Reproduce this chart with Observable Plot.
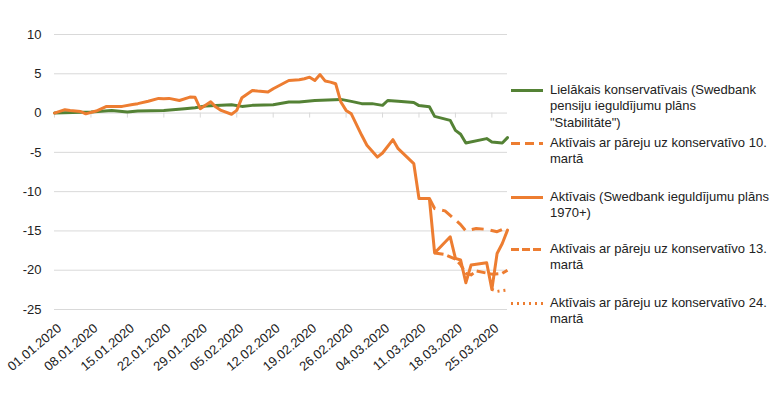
<!DOCTYPE html>
<html><head><meta charset="utf-8">
<script src="https://cdn.jsdelivr.net/npm/d3@7"></script>
<script src="https://cdn.jsdelivr.net/npm/@observablehq/plot@0.6"></script>
<style>
body{margin:0;background:#fff;font-family:"Liberation Sans",Arial,sans-serif;}
#wrap{position:relative;width:776px;height:399px;overflow:hidden;}
#chart{position:absolute;left:0;top:0;}
.leg{position:absolute;left:511px;font-size:13px;line-height:16.5px;color:#222;white-space:nowrap;}
.leg svg{position:absolute;left:0;top:6px;}
.leg .t{position:absolute;left:39px;top:0;}
</style></head><body>
<div id="wrap"><div id="chart"></div><div id="legend"></div></div>
<script>
// ---- data ----
const seriesNames = [
  "Lielākais konservatīvais (Swedbank pensiju ieguldījumu plāns \"Stabilitāte\")",
  "Aktīvais ar pāreju uz konservatīvo 10. martā",
  "Aktīvais (Swedbank ieguldījumu plāns 1970+)",
  "Aktīvais ar pāreju uz konservatīvo 13. martā",
  "Aktīvais ar pāreju uz konservatīvo 24. martā"
];
const legendLines = [
  ["Lielākais konservatīvais (Swedbank", "pensiju ieguldījumu plāns", "\"Stabilitāte\")"],
  ["Aktīvais ar pāreju uz konservatīvo 10.", "martā"],
  ["Aktīvais (Swedbank ieguldījumu plāns", "1970+)"],
  ["Aktīvais ar pāreju uz konservatīvo 13.", "martā"],
  ["Aktīvais ar pāreju uz konservatīvo 24.", "martā"]
];
const xTickLabels = ["01.01.2020","08.01.2020","15.01.2020","22.01.2020","29.01.2020","05.02.2020","12.02.2020","19.02.2020","26.02.2020","04.03.2020","11.03.2020","18.03.2020","25.03.2020"];
const yTicks = [-25, -20, -15, -10, -5, 0, 5, 10];

const greenDates = ["2020-01-01","2020-01-08","2020-01-12","2020-01-15","2020-01-17","2020-01-22","2020-01-26","2020-01-28","2020-01-30","2020-02-04","2020-02-06","2020-02-08","2020-02-12","2020-02-15","2020-02-17","2020-02-20","2020-02-25","2020-02-27","2020-02-29","2020-03-02","2020-03-04","2020-03-05","2020-03-07","2020-03-10","2020-03-11","2020-03-13","2020-03-14","2020-03-17","2020-03-18","2020-03-19","2020-03-20","2020-03-24","2020-03-25","2020-03-27","2020-03-28"];
const greenValues = [0,0.13,0.34,0.13,0.25,0.34,0.56,0.69,0.9,1.07,0.85,0.98,1.07,1.4,1.4,1.6,1.74,1.49,1.2,1.2,0.98,1.6,1.49,1.35,0.95,0.8,-0.42,-0.93,-2.2,-2.7,-3.8,-3.25,-3.68,-3.8,-3.12];

const activeDates = ["2020-01-01","2020-01-03","2020-01-04","2020-01-06","2020-01-07","2020-01-09","2020-01-11","2020-01-14","2020-01-16","2020-01-17","2020-01-19","2020-01-21","2020-01-22","2020-01-23","2020-01-25","2020-01-27","2020-01-28","2020-01-29","2020-01-31","2020-02-01","2020-02-02","2020-02-04","2020-02-05","2020-02-06","2020-02-08","2020-02-09","2020-02-11","2020-02-12","2020-02-14","2020-02-15","2020-02-17","2020-02-18","2020-02-19","2020-02-20","2020-02-21","2020-02-22","2020-02-23","2020-02-24","2020-02-25","2020-02-26","2020-02-27","2020-02-29","2020-03-01","2020-03-03","2020-03-04","2020-03-06","2020-03-07","2020-03-10","2020-03-11","2020-03-13","2020-03-14","2020-03-17","2020-03-18","2020-03-19","2020-03-20","2020-03-21","2020-03-24","2020-03-25","2020-03-26","2020-03-27","2020-03-28"];
const activeValues = [0,0.43,0.34,0.2,-0.1,0.26,0.85,0.85,1.1,1.2,1.5,1.87,1.83,1.87,1.6,2.03,2.0,0.55,1.45,0.76,0.34,-0.15,0.34,1.96,2.88,2.8,2.67,3.1,3.8,4.15,4.24,4.37,4.57,4.15,4.9,4.07,3.94,3.73,1.4,0.34,-0.1,-2.83,-4.1,-5.6,-5.08,-3.38,-4.53,-6.43,-10.88,-10.88,-17.8,-15.75,-18.5,-18.7,-21.6,-19.35,-19.05,-22.44,-17.87,-16.6,-14.9];

const mar10Dates = ["2020-03-13","2020-03-14","2020-03-16","2020-03-18","2020-03-19","2020-03-20","2020-03-22","2020-03-24","2020-03-26","2020-03-28"];
const mar10Values = [-10.88,-12.15,-12.45,-13.6,-14.2,-15.0,-14.7,-14.8,-15.1,-14.5];

const mar13Dates = ["2020-03-14","2020-03-16","2020-03-18","2020-03-19","2020-03-20","2020-03-21","2020-03-22","2020-03-25","2020-03-27","2020-03-28"];
const mar13Values = [-17.8,-18.0,-18.6,-19.3,-20.4,-20.6,-20.1,-20.5,-20.4,-20.0];

const mar24Dates = ["2020-03-25","2020-03-26","2020-03-27","2020-03-28"];
const mar24Values = [-22.44,-22.7,-22.6,-22.5];

// ---- build ----
const GREEN = "#548235", ORANGE = "#ED7D31", GRID = "#d9d9d9";
const rows = (dates, values) => dates.map((d, i) => ({date: new Date(d + "T00:00:00Z"), value: values[i]}));
const parseLbl = s => { const [dd, mm, yy] = s.split("."); return new Date(`${yy}-${mm}-${dd}T00:00:00Z`); };
const weekDates = xTickLabels.map(parseLbl);
const fmt = d3.utcFormat("%d.%m.%Y");

const styles = [
  {stroke: GREEN, dash: null, legDash: null},
  {stroke: ORANGE, dash: "12,7", legDash: "9,5"},
  {stroke: ORANGE, dash: null, legDash: null},
  {stroke: ORANGE, dash: "9,4", legDash: "8,3"},
  {stroke: ORANGE, dash: "2,4", legDash: "2,4"}
];
const data = [rows(greenDates, greenValues), rows(mar10Dates, mar10Values), rows(activeDates, activeValues), rows(mar13Dates, mar13Values), rows(mar24Dates, mar24Values)];

const chart = Plot.plot({
  width: 512, height: 399,
  marginLeft: 54, marginRight: 5, marginTop: 34, marginBottom: 90,
  style: {fontFamily: "Liberation Sans, Arial, sans-serif", fontSize: "13px", color: "#222", background: "transparent", overflow: "visible"},
  x: {type: "utc", domain: [new Date("2020-01-01T00:00:00Z"), new Date("2020-03-28T00:00:00Z")]},
  y: {domain: [-25, 10]},
  marks: [
    Plot.ruleY(yTicks, {stroke: GRID, strokeWidth: 1}),
    Plot.ruleX(weekDates, {y1: 0, y2: 0, insetBottom: -5, stroke: GRID, strokeWidth: 1}),
    Plot.axisY({ticks: yTicks, tickSize: 0, tickPadding: 13, tickFormat: d => String(d), fontSize: 13, label: null}),
    Plot.axisX({ticks: weekDates, tickFormat: fmt, tickRotate: -40, tickSize: 0, tickPadding: 17, dx: 5, fontSize: 13, label: null}),
    ...data.map((rs, i) => Plot.line(rs, {x: "date", y: "value", stroke: styles[i].stroke, strokeWidth: 3,
      strokeDasharray: styles[i].dash || undefined, strokeLinejoin: "round", strokeLinecap: styles[i].dash ? "butt" : "round"}))
  ]
});
document.getElementById("chart").appendChild(chart);

// ---- legend (HTML, right side) ----
const legendCenters = [90, 143, 197, 249, 303];
const leg = document.getElementById("legend");
legendLines.forEach((lines, i) => {
  const div = document.createElement("div");
  div.className = "leg";
  div.style.top = (legendCenters[i] - 8.25) + "px";
  div.title = seriesNames[i];
  const s = styles[i];
  div.innerHTML = `<svg width="32" height="5"><line x1="0" y1="2.5" x2="32" y2="2.5" stroke="${s.stroke}" stroke-width="3" ${s.legDash ? `stroke-dasharray="${s.legDash}"` : ""}/></svg>` +
    `<div class="t">${lines.join("<br>")}</div>`;
  leg.appendChild(div);
});
</script>
</body></html>
